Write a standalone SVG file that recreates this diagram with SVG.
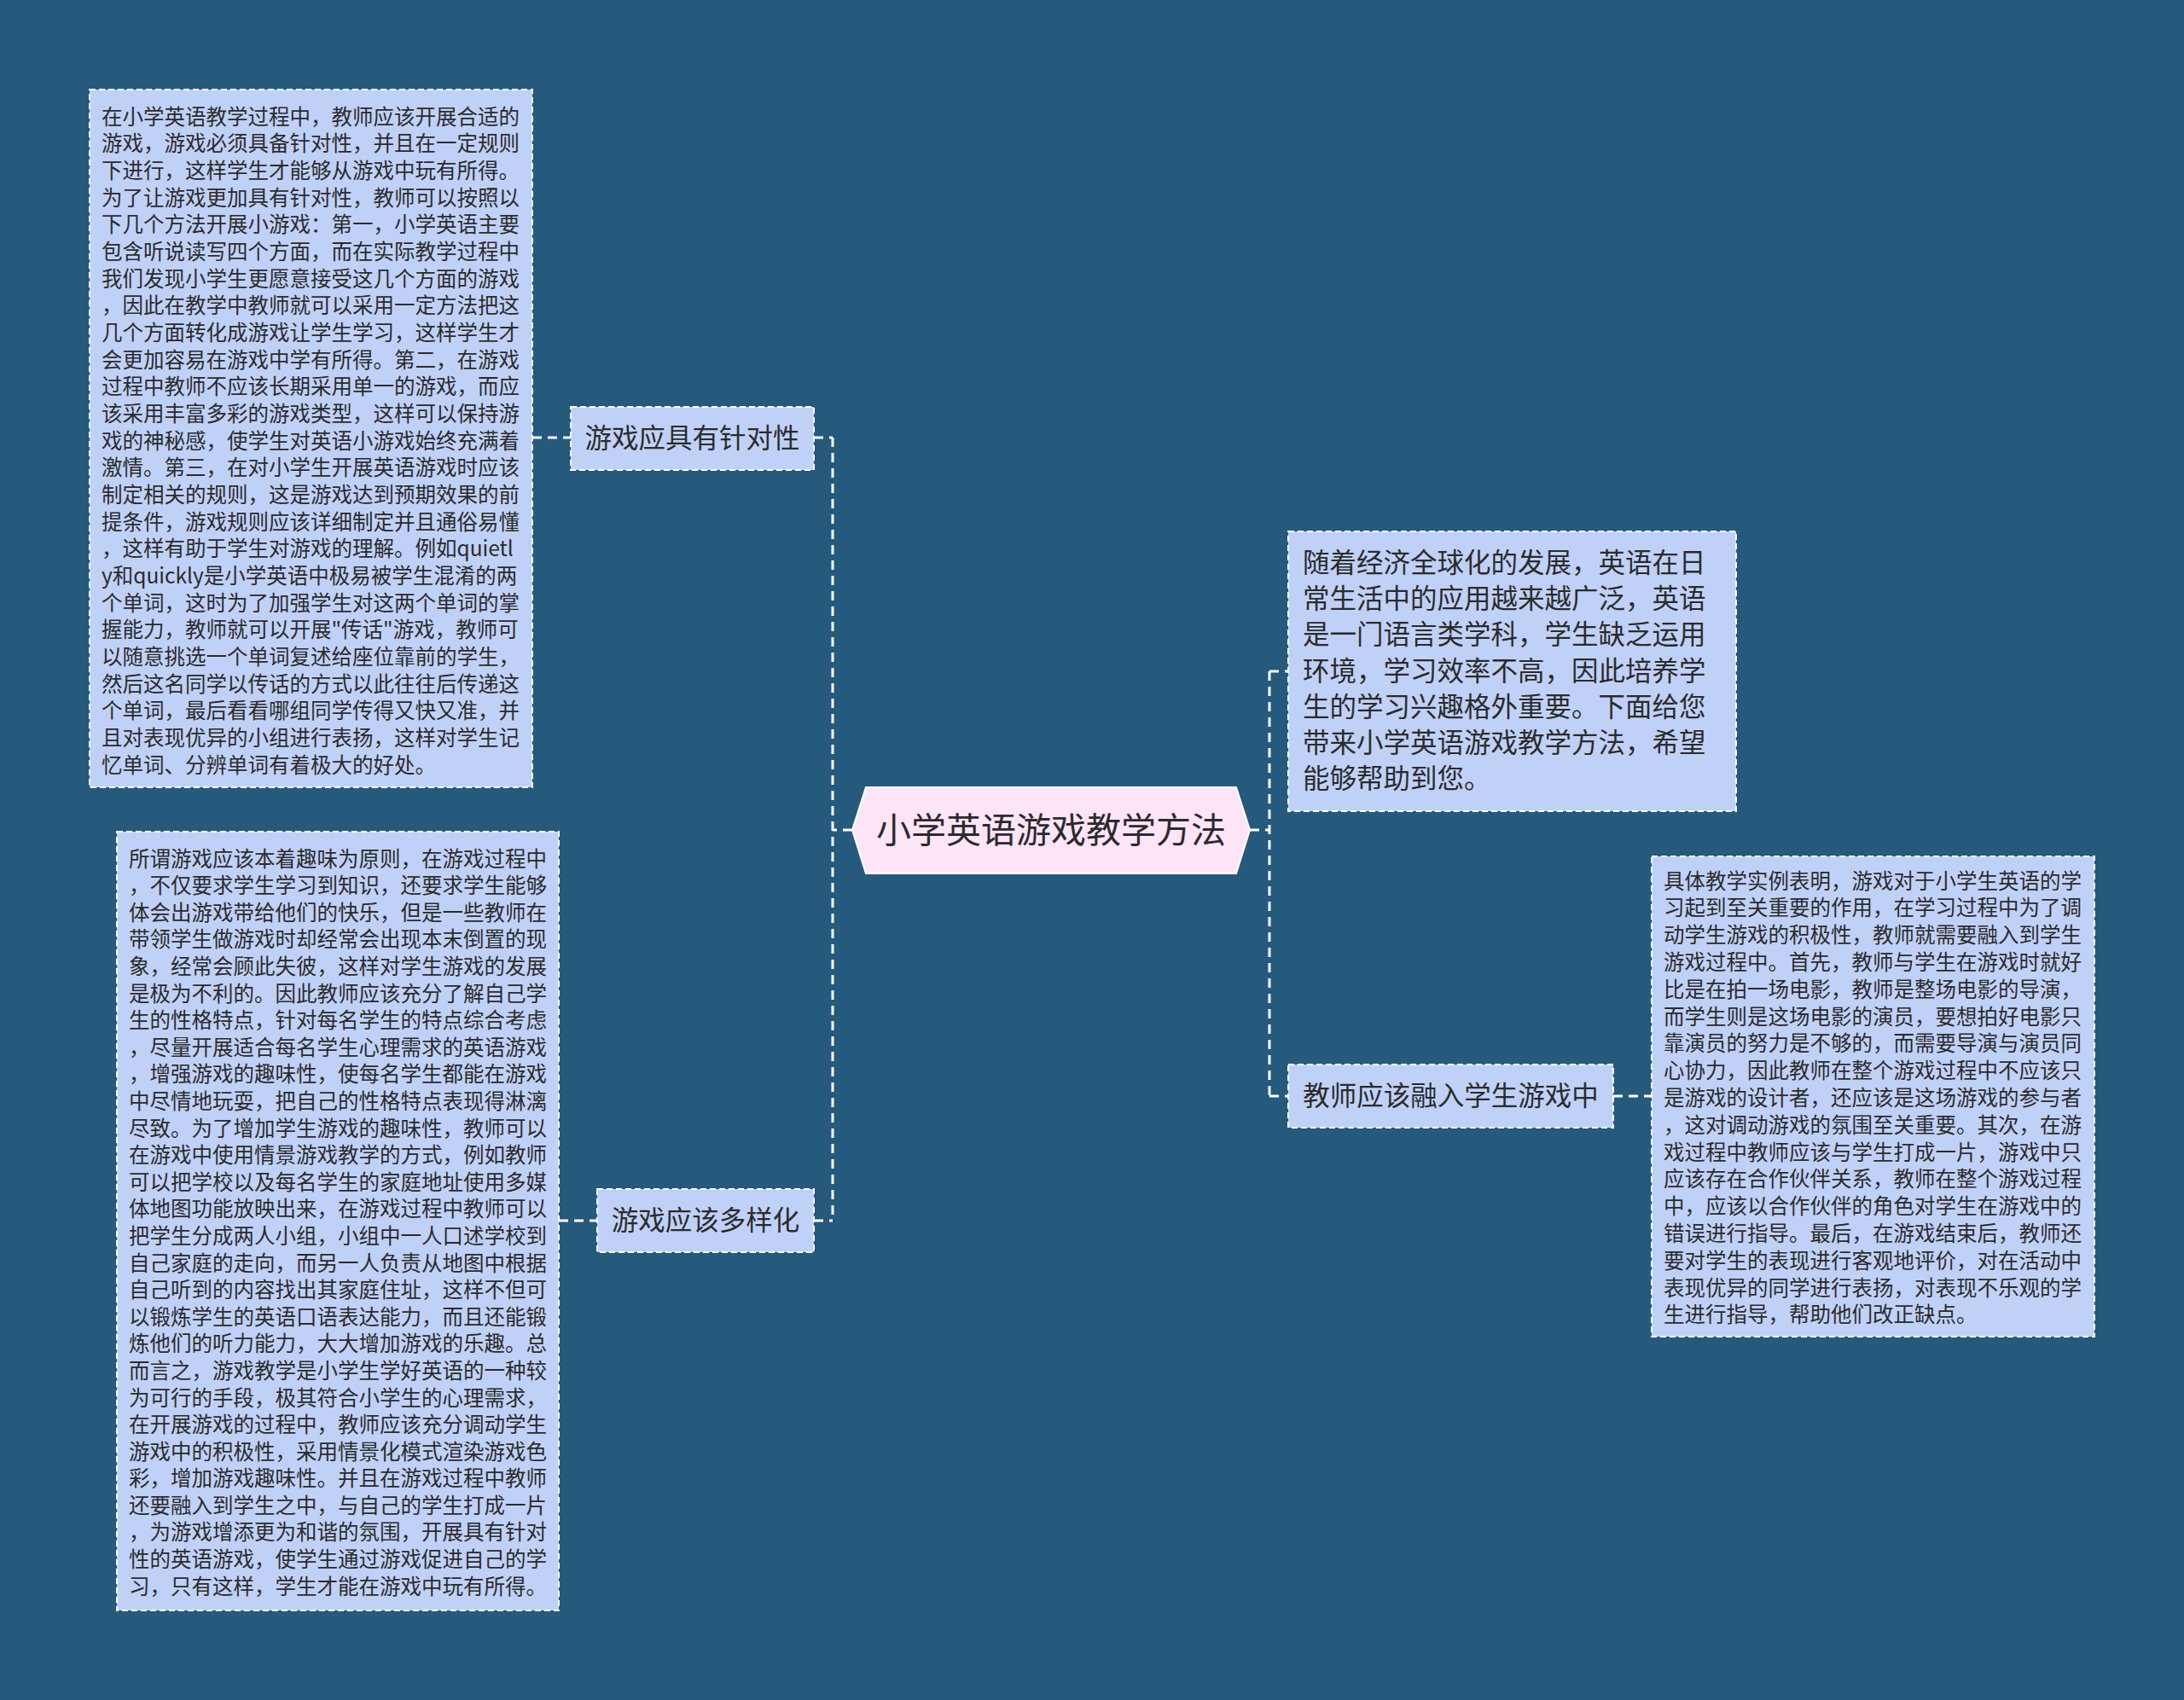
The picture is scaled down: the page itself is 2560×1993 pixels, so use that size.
<svg xmlns="http://www.w3.org/2000/svg" width="2560" height="1993" viewBox="0 0 2560 1993">
<style>
.bg{fill:#255a7d}
.box{fill:#c0d1f7;stroke:#ffffff;stroke-width:2;stroke-dasharray:7 4}
.hex{fill:#fde4f6;stroke:#ffffff;stroke-width:2}
.conn{fill:none;stroke:#ffffff;stroke-width:3;stroke-dasharray:11 7}
.t{font-family:"Noto Sans CJK SC","Noto Sans",sans-serif;fill:#2b2b2b}
.small{font-size:24.5px}
.mid{font-size:31.5px}
.big{font-size:41px}
</style>
<rect class="bg" x="0" y="0" width="2560" height="1993"/>
<g id="connectors">
<path class="conn" d="M999 973 H976 M976 513 V1431 M954 513 H976 M954 1431 H976"/>
<path class="conn" d="M624 513 H669"/>
<path class="conn" d="M655 1431 H700"/>
<path class="conn" d="M1465 973 H1488 M1488 787 V1285 M1488 787 H1510 M1488 1285 H1510"/>
<path class="conn" d="M1891 1285 H1936"/>
</g>
<g id="center">
<polygon class="hex" points="999,973 1015,923 1449,923 1465,973 1449,1024 1015,1024"/>
<text class="t big" x="1232" y="988" text-anchor="middle">小学英语游戏教学方法</text>
</g>
<g id="label1">
<rect class="box" x="669" y="477" width="285" height="74"/>
<text class="t mid" x="811.5" y="525" text-anchor="middle">游戏应具有针对性</text>
</g>
<g id="label2">
<rect class="box" x="700" y="1394" width="254" height="74"/>
<text class="t mid" x="827" y="1442" text-anchor="middle">游戏应该多样化</text>
</g>
<g id="label3">
<rect class="box" x="1510" y="1248" width="381" height="74"/>
<text class="t mid" x="1700.5" y="1296" text-anchor="middle">教师应该融入学生游戏中</text>
</g>
<g id="intro">
<rect class="box" x="1510" y="623" width="525" height="328"/>
<text class="t mid" x="1527" y="671">
<tspan x="1527">随着经济全球化的发展，英语在日</tspan>
<tspan x="1527" dy="42.2">常生活中的应用越来越广泛，英语</tspan>
<tspan x="1527" dy="42.2">是一门语言类学科，学生缺乏运用</tspan>
<tspan x="1527" dy="42.2">环境，学习效率不高，因此培养学</tspan>
<tspan x="1527" dy="42.2">生的学习兴趣格外重要。下面给您</tspan>
<tspan x="1527" dy="42.2">带来小学英语游戏教学方法，希望</tspan>
<tspan x="1527" dy="42.2">能够帮助到您。</tspan>
</text>
</g>
<g id="detail1">
<rect class="box" x="105" y="105" width="519" height="818"/>
<text class="t small" x="119" y="145.5">
<tspan x="119">在小学英语教学过程中，教师应该开展合适的</tspan>
<tspan x="119" dy="31.67">游戏，游戏必须具备针对性，并且在一定规则</tspan>
<tspan x="119" dy="31.67">下进行，这样学生才能够从游戏中玩有所得。</tspan>
<tspan x="119" dy="31.67">为了让游戏更加具有针对性，教师可以按照以</tspan>
<tspan x="119" dy="31.67">下几个方法开展小游戏：第一，小学英语主要</tspan>
<tspan x="119" dy="31.67">包含听说读写四个方面，而在实际教学过程中</tspan>
<tspan x="119" dy="31.67">我们发现小学生更愿意接受这几个方面的游戏</tspan>
<tspan x="119" dy="31.67">，因此在教学中教师就可以采用一定方法把这</tspan>
<tspan x="119" dy="31.67">几个方面转化成游戏让学生学习，这样学生才</tspan>
<tspan x="119" dy="31.67">会更加容易在游戏中学有所得。第二，在游戏</tspan>
<tspan x="119" dy="31.67">过程中教师不应该长期采用单一的游戏，而应</tspan>
<tspan x="119" dy="31.67">该采用丰富多彩的游戏类型，这样可以保持游</tspan>
<tspan x="119" dy="31.67">戏的神秘感，使学生对英语小游戏始终充满着</tspan>
<tspan x="119" dy="31.67">激情。第三，在对小学生开展英语游戏时应该</tspan>
<tspan x="119" dy="31.67">制定相关的规则，这是游戏达到预期效果的前</tspan>
<tspan x="119" dy="31.67">提条件，游戏规则应该详细制定并且通俗易懂</tspan>
<tspan x="119" dy="31.67">，这样有助于学生对游戏的理解。例如quietl</tspan>
<tspan x="119" dy="31.67">y和quickly是小学英语中极易被学生混淆的两</tspan>
<tspan x="119" dy="31.67">个单词，这时为了加强学生对这两个单词的掌</tspan>
<tspan x="119" dy="31.67">握能力，教师就可以开展"传话"游戏，教师可</tspan>
<tspan x="119" dy="31.67">以随意挑选一个单词复述给座位靠前的学生，</tspan>
<tspan x="119" dy="31.67">然后这名同学以传话的方式以此往往后传递这</tspan>
<tspan x="119" dy="31.67">个单词，最后看看哪组同学传得又快又准，并</tspan>
<tspan x="119" dy="31.67">且对表现优异的小组进行表扬，这样对学生记</tspan>
<tspan x="119" dy="31.67">忆单词、分辨单词有着极大的好处。</tspan>
</text>
</g>
<g id="detail2">
<rect class="box" x="137" y="975" width="518" height="913"/>
<text class="t small" x="151" y="1015.5">
<tspan x="151">所谓游戏应该本着趣味为原则，在游戏过程中</tspan>
<tspan x="151" dy="31.6">，不仅要求学生学习到知识，还要求学生能够</tspan>
<tspan x="151" dy="31.6">体会出游戏带给他们的快乐，但是一些教师在</tspan>
<tspan x="151" dy="31.6">带领学生做游戏时却经常会出现本末倒置的现</tspan>
<tspan x="151" dy="31.6">象，经常会顾此失彼，这样对学生游戏的发展</tspan>
<tspan x="151" dy="31.6">是极为不利的。因此教师应该充分了解自己学</tspan>
<tspan x="151" dy="31.6">生的性格特点，针对每名学生的特点综合考虑</tspan>
<tspan x="151" dy="31.6">，尽量开展适合每名学生心理需求的英语游戏</tspan>
<tspan x="151" dy="31.6">，增强游戏的趣味性，使每名学生都能在游戏</tspan>
<tspan x="151" dy="31.6">中尽情地玩耍，把自己的性格特点表现得淋漓</tspan>
<tspan x="151" dy="31.6">尽致。为了增加学生游戏的趣味性，教师可以</tspan>
<tspan x="151" dy="31.6">在游戏中使用情景游戏教学的方式，例如教师</tspan>
<tspan x="151" dy="31.6">可以把学校以及每名学生的家庭地址使用多媒</tspan>
<tspan x="151" dy="31.6">体地图功能放映出来，在游戏过程中教师可以</tspan>
<tspan x="151" dy="31.6">把学生分成两人小组，小组中一人口述学校到</tspan>
<tspan x="151" dy="31.6">自己家庭的走向，而另一人负责从地图中根据</tspan>
<tspan x="151" dy="31.6">自己听到的内容找出其家庭住址，这样不但可</tspan>
<tspan x="151" dy="31.6">以锻炼学生的英语口语表达能力，而且还能锻</tspan>
<tspan x="151" dy="31.6">炼他们的听力能力，大大增加游戏的乐趣。总</tspan>
<tspan x="151" dy="31.6">而言之，游戏教学是小学生学好英语的一种较</tspan>
<tspan x="151" dy="31.6">为可行的手段，极其符合小学生的心理需求，</tspan>
<tspan x="151" dy="31.6">在开展游戏的过程中，教师应该充分调动学生</tspan>
<tspan x="151" dy="31.6">游戏中的积极性，采用情景化模式渲染游戏色</tspan>
<tspan x="151" dy="31.6">彩，增加游戏趣味性。并且在游戏过程中教师</tspan>
<tspan x="151" dy="31.6">还要融入到学生之中，与自己的学生打成一片</tspan>
<tspan x="151" dy="31.6">，为游戏增添更为和谐的氛围，开展具有针对</tspan>
<tspan x="151" dy="31.6">性的英语游戏，使学生通过游戏促进自己的学</tspan>
<tspan x="151" dy="31.6">习，只有这样，学生才能在游戏中玩有所得。</tspan>
</text>
</g>
<g id="detail3">
<rect class="box" x="1936" y="1004" width="519" height="563"/>
<text class="t small" x="1950" y="1041.5">
<tspan x="1950">具体教学实例表明，游戏对于小学生英语的学</tspan>
<tspan x="1950" dy="31.8">习起到至关重要的作用，在学习过程中为了调</tspan>
<tspan x="1950" dy="31.8">动学生游戏的积极性，教师就需要融入到学生</tspan>
<tspan x="1950" dy="31.8">游戏过程中。首先，教师与学生在游戏时就好</tspan>
<tspan x="1950" dy="31.8">比是在拍一场电影，教师是整场电影的导演，</tspan>
<tspan x="1950" dy="31.8">而学生则是这场电影的演员，要想拍好电影只</tspan>
<tspan x="1950" dy="31.8">靠演员的努力是不够的，而需要导演与演员同</tspan>
<tspan x="1950" dy="31.8">心协力，因此教师在整个游戏过程中不应该只</tspan>
<tspan x="1950" dy="31.8">是游戏的设计者，还应该是这场游戏的参与者</tspan>
<tspan x="1950" dy="31.8">，这对调动游戏的氛围至关重要。其次，在游</tspan>
<tspan x="1950" dy="31.8">戏过程中教师应该与学生打成一片，游戏中只</tspan>
<tspan x="1950" dy="31.8">应该存在合作伙伴关系，教师在整个游戏过程</tspan>
<tspan x="1950" dy="31.8">中，应该以合作伙伴的角色对学生在游戏中的</tspan>
<tspan x="1950" dy="31.8">错误进行指导。最后，在游戏结束后，教师还</tspan>
<tspan x="1950" dy="31.8">要对学生的表现进行客观地评价，对在活动中</tspan>
<tspan x="1950" dy="31.8">表现优异的同学进行表扬，对表现不乐观的学</tspan>
<tspan x="1950" dy="31.8">生进行指导，帮助他们改正缺点。</tspan>
</text>
</g>
</svg>
